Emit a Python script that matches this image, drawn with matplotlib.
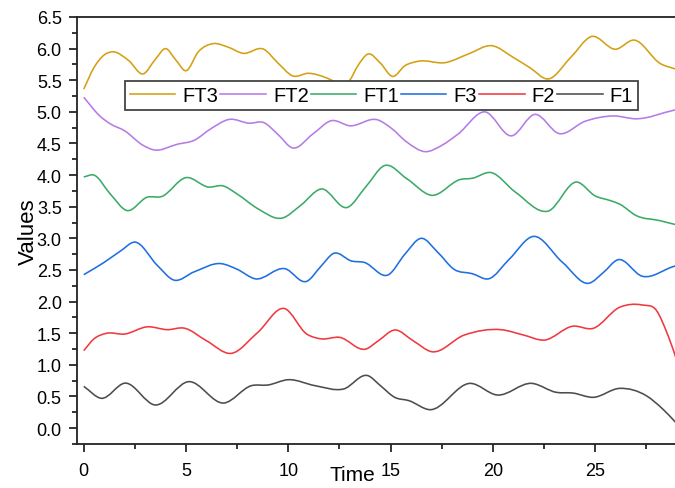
import numpy as np
import matplotlib
matplotlib.use("Agg")
import matplotlib.pyplot as plt
from matplotlib.path import Path
from matplotlib.patches import PathPatch
from matplotlib.lines import Line2D
from matplotlib.ticker import MultipleLocator

plt.rcParams["font.family"] = ["Liberation Sans", "DejaVu Sans"]

# values (time, value) per series
ft3_t = [0, 0.5, 1.0, 1.4, 2.2, 2.9, 3.5, 4.0, 4.5, 5.0, 5.6, 6.35, 7.0, 7.8, 8.8, 9.5,
         10.2, 11.0, 11.8, 12.3, 12.6, 13.0, 13.4, 13.9, 14.5, 15.1, 15.7, 16.35, 17.7,
         18.8, 19.95, 21.0, 21.8, 22.7, 23.8, 24.8, 26.0, 26.9, 28.2, 28.9, 29.2]
ft3_v = [5.36, 5.70, 5.90, 5.95, 5.81, 5.60, 5.83, 6.00, 5.82, 5.65, 5.95, 6.08, 6.03, 5.925,
         5.99, 5.77, 5.57, 5.61, 5.545, 5.47, 5.41, 5.50, 5.73, 5.915, 5.77, 5.56, 5.73, 5.80,
         5.78, 5.915, 6.046, 5.86, 5.70, 5.52, 5.86, 6.19, 5.99, 6.135, 5.76, 5.68, 5.65]

ft2_t = [0, 0.8, 1.3, 2.0, 2.9, 3.4, 4.6, 5.4, 6.2, 7.1, 8.1, 8.8, 9.5, 10.2, 11.2, 12.1,
         13.0, 14.4, 15.0, 15.8, 16.7, 17.5, 18.3, 19.6, 20.9, 22.05, 23.25, 24.5, 25.9,
         27.0, 28.9, 29.2]
ft2_v = [5.23, 4.93, 4.81, 4.70, 4.47, 4.40, 4.49, 4.55, 4.73, 4.88, 4.82, 4.83, 4.64, 4.43,
         4.65, 4.86, 4.78, 4.87, 4.75, 4.52, 4.37, 4.47, 4.65, 5.0, 4.62, 4.96, 4.655, 4.85,
         4.935, 4.89, 5.03, 5.05]

ft1_t = [0, 0.5, 1.3, 2.1, 3.1, 3.8, 5.0, 6.1, 6.8, 7.5, 8.5, 9.7, 10.6, 11.6, 12.9, 13.8,
         14.7, 15.8, 17.0, 18.4, 19.0, 19.9, 21.1, 22.7, 24.1, 25.0, 25.7, 26.2, 27.0, 28.15,
         28.9, 29.2]
ft1_v = [3.97, 4.00, 3.70, 3.44, 3.65, 3.66, 3.96, 3.81, 3.83, 3.70, 3.47, 3.32, 3.52, 3.78,
         3.49, 3.82, 4.15, 3.94, 3.68, 3.93, 3.95, 4.04, 3.73, 3.43, 3.89, 3.67, 3.60, 3.54,
         3.36, 3.28, 3.22, 3.20]

f3_t = [0, 1.0, 1.8, 2.5, 3.6, 4.4, 5.4, 6.7, 7.5, 8.37, 9.83, 10.9, 11.6, 12.2, 13.1, 13.7,
        14.9, 15.7, 16.5, 17.3, 18.1, 19.0, 19.8, 20.8, 21.97, 23.4, 24.7, 25.4, 26.1, 27.3,
        28.9, 29.2]
f3_v = [2.425, 2.62, 2.80, 2.94, 2.57, 2.34, 2.47, 2.60, 2.51, 2.36, 2.52, 2.32, 2.56, 2.76,
        2.64, 2.62, 2.425, 2.75, 3.0, 2.78, 2.51, 2.44, 2.36, 2.67, 3.03, 2.62, 2.29, 2.46,
        2.66, 2.40, 2.56, 2.58]

f2_t = [0, 0.5, 1.1, 2.0, 3.1, 4.1, 4.9, 6.0, 7.2, 8.5, 9.8, 10.9, 11.6, 12.5, 13.8, 14.4,
        15.2, 16.1, 17.0, 18.6, 20.4, 21.5, 22.5, 23.9, 24.9, 26.2, 27.3, 28.0, 28.5, 28.9,
        29.1]
f2_v = [1.223, 1.41, 1.497, 1.486, 1.60, 1.555, 1.58, 1.38, 1.18, 1.51, 1.89, 1.486, 1.41,
        1.434, 1.25, 1.38, 1.55, 1.38, 1.207, 1.47, 1.555, 1.47, 1.39, 1.61, 1.576, 1.91,
        1.945, 1.856, 1.51, 1.154, 0.95]

f1_t = [0, 0.85, 2.03, 3.5, 5.13, 6.85, 8.2, 9.0, 10.0, 11.3, 12.7, 13.9, 14.5, 15.2, 15.9,
        16.9, 18.9, 20.2, 21.9, 23.1, 23.9, 24.9, 26.2, 27.5, 28.3, 28.9, 29.1]
f1_v = [0.659, 0.47, 0.71, 0.364, 0.733, 0.395, 0.67, 0.68, 0.764, 0.67, 0.617, 0.827, 0.67,
        0.485, 0.432, 0.29, 0.706, 0.522, 0.706, 0.564, 0.553, 0.485, 0.627, 0.51, 0.30,
        0.10, 0.03]

names = ["FT3", "FT2", "FT1", "F3", "F2", "F1"]
colors = ["#D4A012", "#B57BE6", "#3BAA6A", "#1E6FE0", "#F0393E", "#4D4D4D"]
series = [(ft3_t, ft3_v), (ft2_t, ft2_v), (ft1_t, ft1_v),
          (f3_t, f3_v), (f2_t, f2_v), (f1_t, f1_v)]


def spline_path(t, v):
    # cubic hermite segments as bezier curves, drawn by matplotlib
    t = np.asarray(t, float)
    v = np.asarray(v, float)
    m = np.gradient(v, t)
    verts = [(t[0], v[0])]
    codes = [Path.MOVETO]
    for i in range(len(t) - 1):
        h = t[i + 1] - t[i]
        verts += [(t[i] + h / 3, v[i] + m[i] * h / 3),
                  (t[i + 1] - h / 3, v[i + 1] - m[i + 1] * h / 3),
                  (t[i + 1], v[i + 1])]
        codes += [Path.CURVE4] * 3
    return Path(verts, codes)


fig = plt.figure(figsize=(6.75, 4.89), dpi=100)
ax = fig.add_axes([77 / 675, 44 / 489, 598 / 675, 427 / 489])

for (t, v), c in zip(series, colors):
    ax.add_patch(PathPatch(spline_path(t, v), fill=False, edgecolor=c, lw=1.15))

ax.set_xlim(-0.33, 28.9)
ax.set_ylim(-0.253, 6.5)
ax.xaxis.set_major_locator(MultipleLocator(5))
ax.xaxis.set_minor_locator(MultipleLocator(2.5))
ax.yaxis.set_major_locator(MultipleLocator(0.5))
ax.yaxis.set_minor_locator(MultipleLocator(0.25))
ax.yaxis.set_major_formatter(matplotlib.ticker.FormatStrFormatter("%.1f"))

ax.spines["right"].set_visible(False)
for s in ["left", "bottom", "top"]:
    ax.spines[s].set_linewidth(1.3)
    ax.spines[s].set_color("#222222")
ax.tick_params(which="major", direction="out", length=6, width=1.1, labelsize=13,
               top=False, right=False)
ax.tick_params(which="minor", direction="out", length=3.5, width=1.1,
               top=False, right=False)
ax.tick_params(axis="x", which="major", pad=7)
ax.tick_params(axis="y", which="major", pad=5)

ax.set_xlabel("Time", fontsize=15)
ax.set_ylabel("Values", fontsize=16)
ax.xaxis.set_label_coords(0.461, -0.049)
ax.yaxis.set_label_coords(-0.064, 0.5)

handles = [Line2D([], [], color=c, lw=1.15) for c in colors]
leg = ax.legend(handles, names, ncol=6, loc="upper left", bbox_to_anchor=(0.080, 0.850),
                borderaxespad=0, fontsize=14.5, handlelength=2.26, handletextpad=0.35,
                columnspacing=0.1, borderpad=0.25, fancybox=False, framealpha=1)
leg.get_frame().set_edgecolor("#444444")
leg.get_frame().set_linewidth(1.3)

fig.savefig("out.png", dpi=100)
